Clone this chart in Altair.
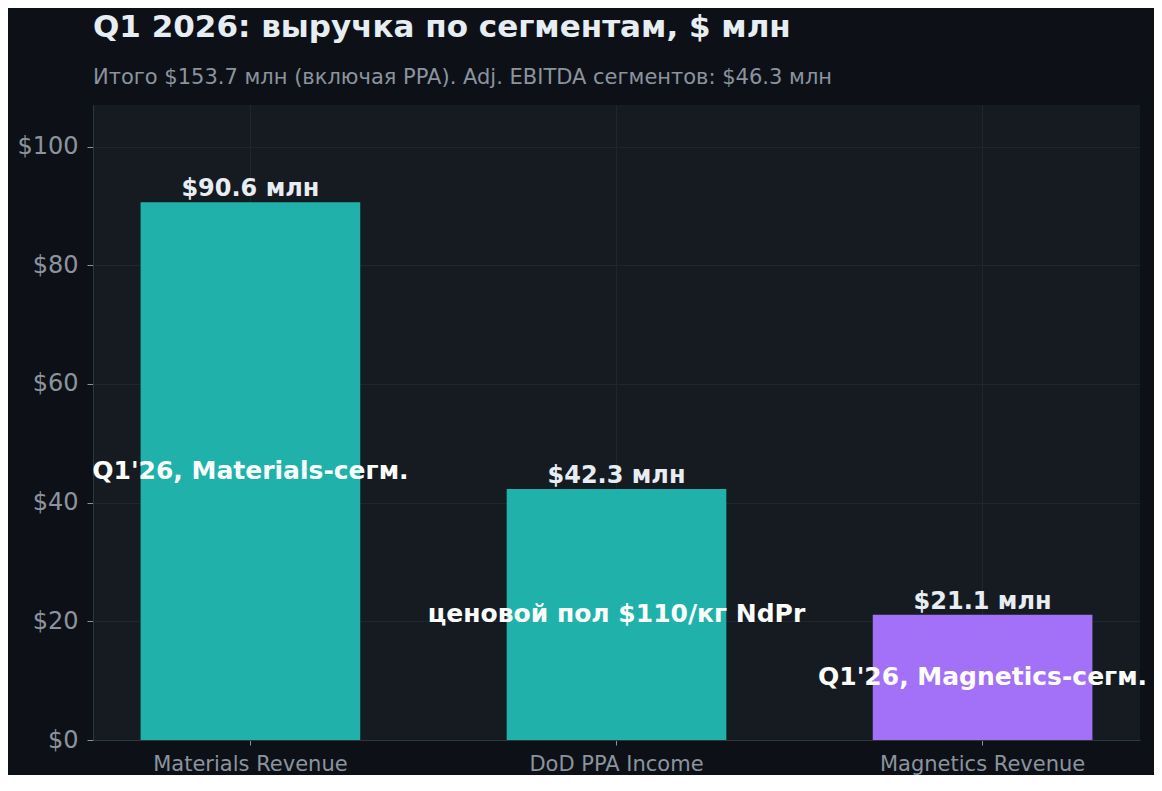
import altair as alt
import pandas as pd

# segment data, $ mln
segments = ["Materials Revenue", "DoD PPA Income", "Magnetics Revenue"]
values = [90.6, 42.3, 21.1]
value_labels = ["$90.6 млн", "$42.3 млн", "$21.1 млн"]
inner_labels = ["Q1'26, Materials-сегм.", "ценовой пол $110/кг NdPr", "Q1'26, Magnetics-сегм."]
bar_colors = ["#20b2aa", "#20b2aa", "#a371f7"]

FONT = "DejaVu Sans"

df = pd.DataFrame({
    "segment": segments,
    "value": values,
    "half": [v / 2 for v in values],
    "vlabel": value_labels,
    "ilabel": inner_labels,
    "color": bar_colors,
})

x_enc = alt.X(
    "segment:N", sort=segments, title=None,
    scale=alt.Scale(paddingInner=0.4, paddingOuter=0.13),
    axis=alt.Axis(labelAngle=0, labelFontSize=21, labelColor="#8b949e", labelPadding=8,
                  labelLimit=0, tickColor="#8b949e", tickSize=5, domainColor="#30363d",
                  gridColor="#21262d", grid=True),
)

y_scale = alt.Scale(domain=[0, 107], nice=False)

bars = alt.Chart(df).mark_bar().encode(
    x=x_enc,
    y=alt.Y("value:Q", scale=y_scale, title=None,
            axis=alt.Axis(values=[0, 20, 40, 60, 80, 100], labelExpr="'$' + datum.value",
                          labelFontSize=24, labelColor="#8b949e", labelPadding=9,
                          tickColor="#8b949e", tickSize=6, domainColor="#30363d",
                          gridColor="#21262d")),
    color=alt.Color("color:N", scale=None),
)

value_text = alt.Chart(df).mark_text(
    baseline="alphabetic", dy=-6, font=FONT, fontSize=24, fontWeight="bold", color="#e6edf3"
).encode(x=alt.X("segment:N", sort=segments), y=alt.Y("value:Q", scale=y_scale), text="vlabel:N")

inner_text = alt.Chart(df).mark_text(
    baseline="middle", font=FONT, fontSize=25, fontWeight="bold", color="#ffffff"
).encode(x=alt.X("segment:N", sort=segments), y=alt.Y("half:Q", scale=y_scale), text="ilabel:N")

chart = (bars + value_text + inner_text).properties(
    width=1047,
    height=635,
    autosize=alt.AutoSizeParams(type="none"),
    padding={"left": 85, "top": 97, "right": 14, "bottom": 35},
    background="#0d1117",
    title=alt.TitleParams(
        text="Q1 2026: выручка по сегментам, $ млн",
        subtitle="Итого $153.7 млн (включая PPA). Adj. EBITDA сегментов: $46.3 млн",
        anchor="start", frame="group", font=FONT, fontSize=31, fontWeight="bold",
        color="#e6edf3", subtitleFont=FONT, subtitleFontSize=21, subtitleColor="#8b949e",
        subtitlePadding=23, offset=16,
    ),
).configure_view(
    fill="#161b22", stroke=None
).configure_axis(
    labelFont=FONT
)

chart.save("out.html", embed_options={"renderer": "svg", "actions": False})
